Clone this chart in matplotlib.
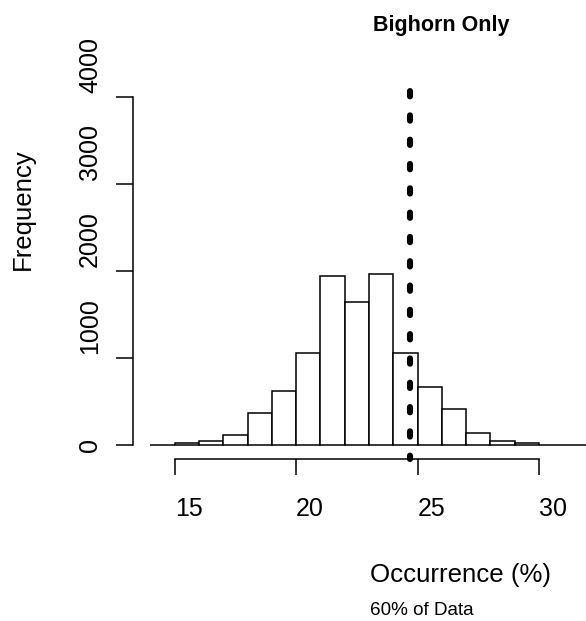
import matplotlib
matplotlib.use("Agg")
import matplotlib.pyplot as plt
import matplotlib.transforms as mtransforms
import numpy as np

plt.rcParams['font.family'] = ['Liberation Sans', 'DejaVu Sans']
plt.rcParams['lines.scale_dashes'] = False

# histogram bins (left edges, width 1) and counts
bin_left = [14, 15, 16, 17, 18, 19, 20, 21, 22, 23, 24, 25, 26, 27, 28, 29, 30, 31]
counts = [3, 25, 50, 115, 368, 624, 1061, 1943, 1640, 1966, 1061, 667, 414, 134, 49, 20, 3, 2]
x_ticks = [15, 20, 25, 30]
y_ticks = [0, 1000, 2000, 3000, 4000]
cutoff = 24.7

W, H = 586, 621
fig = plt.figure(figsize=(W / 100, H / 100), dpi=100)
# plot region runs past the right edge of the picture (cropped device)
ax = fig.add_axes([133 / W, 162 / H, 472 / W, 376 / H])
ax.set_xlim(13.28, 32.72)
ax.set_ylim(-160, 4160)

ax.bar(bin_left, counts, width=1, align='edge', facecolor='white',
       edgecolor='black', linewidth=1.1, zorder=2)

ax.plot([cutoff, cutoff], [4160, -160], color='black', linewidth=4.4,
        linestyle=(11.7, (3.8, 13.7)), solid_capstyle='round',
        dash_capstyle='round', zorder=3, clip_on=False)

for s in ['top', 'right']:
    ax.spines[s].set_visible(False)
ax.spines['bottom'].set_bounds(15, 30)
ax.spines['left'].set_bounds(0, 4000)
ax.spines['bottom'].set_linewidth(1.1)
ax.spines['left'].set_linewidth(1.1)

ax.set_xticks(x_ticks)
ax.set_xticklabels([str(v) for v in x_ticks], fontsize=18)
ax.tick_params(axis='x', direction='out', length=11.5, width=1.1, pad=16)
for lab in ax.get_xticklabels():
    lab.set_ha('left')

ax.set_yticks(y_ticks)
ax.set_yticklabels([])
ax.tick_params(axis='y', direction='out', length=12, width=1.1)
trans = mtransforms.blended_transform_factory(fig.transFigure, ax.transData)
for v in y_ticks:
    if v == 0:
        ax.text(97 / W, v, str(v), transform=trans, rotation=90,
                rotation_mode='anchor', ha='center', va='baseline', fontsize=18)
    else:
        off = mtransforms.ScaledTranslation(0, 3 / 72, fig.dpi_scale_trans)
        ax.text(97 / W, v, str(v), transform=trans + off, rotation=90,
                rotation_mode='anchor', ha='left', va='baseline', fontsize=18)

fig.text(23 / W, 1 - 209 / H, 'Frequency', rotation=90, ha='center',
         va='center', fontsize=18.5)
fig.text(441 / W, 1 - 31 / H, 'Bighorn Only', ha='center', va='baseline',
         fontsize=15.5, fontweight='bold')
fig.text(370 / W, 1 - 582 / H, 'Occurrence (%)', ha='left', va='baseline',
         fontsize=18.6)
fig.text(370 / W, 1 - 615 / H, '60% of Data', ha='left', va='baseline',
         fontsize=13.6)

fig.savefig('out.png', dpi=100)
